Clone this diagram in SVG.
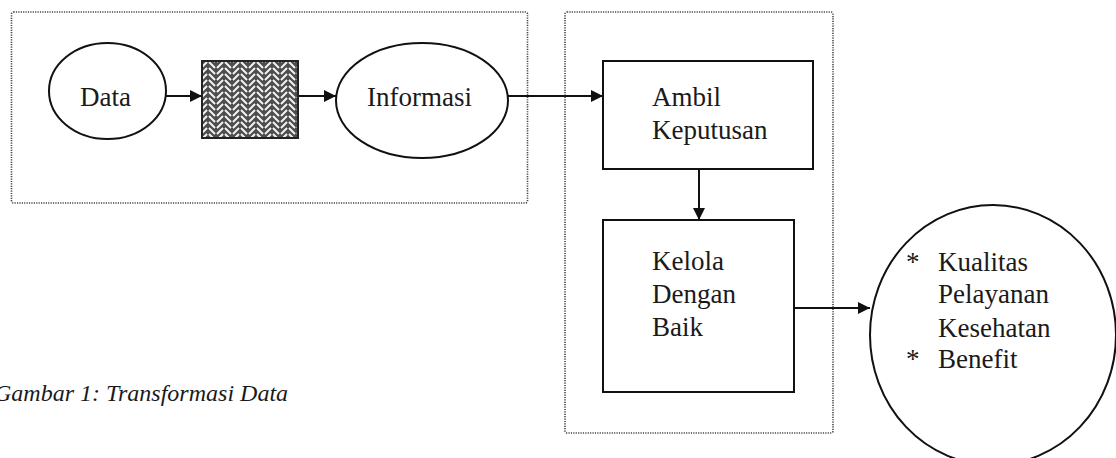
<svg xmlns="http://www.w3.org/2000/svg" width="1116" height="458" viewBox="0 0 1116 458">
<style>
.frame{fill:none;stroke:#444;stroke-width:1.6;stroke-dasharray:1.2 1.2}
.shape{fill:#fff;stroke:#111;stroke-width:2}
.lbl{font-family:"Liberation Serif","Times New Roman",serif;font-size:27px;fill:#1a1a1a}
.cap{font-family:"Liberation Serif","Times New Roman",serif;font-size:24px;font-style:italic;fill:#1a1a1a}
.conn{stroke:#111;stroke-width:2;fill:none;marker-end:url(#arr)}
</style>
<defs>
<marker id="arr" viewBox="0 0 12 12" refX="12" refY="6" markerWidth="12" markerHeight="12" markerUnits="userSpaceOnUse" orient="auto">
<path d="M0,0 L12,6 L0,12 Z" fill="#111"/>
</marker>
<pattern id="weave" width="16" height="12" patternUnits="userSpaceOnUse">
<rect width="16" height="12" fill="#4d4d4d"/>
<path d="M1,2 L7,8 M1,8 L7,14 M1,-4 L7,2 M9,8 L15,2 M9,14 L15,8 M9,2 L15,-4" stroke="#f2f2f2" stroke-width="2" fill="none"/>
</pattern>
</defs>

<rect class="frame" x="11.5" y="12" width="516" height="191" rx="2"/>
<rect class="frame" x="565" y="12" width="268" height="421" rx="2"/>

<g id="connectors">
<line class="conn" x1="166" y1="96" x2="202" y2="96"/>
<line class="conn" x1="299" y1="96" x2="336" y2="96"/>
<line class="conn" x1="508" y1="96" x2="603" y2="96"/>
<line class="conn" x1="699" y1="169" x2="699" y2="220"/>
<line class="conn" x1="794" y1="308" x2="870" y2="308"/>
</g>

<g id="data">
<ellipse class="shape" cx="107.5" cy="91" rx="58.5" ry="48"/>
<text class="lbl" x="80" y="106">Data</text>
</g>

<g id="process">
<rect x="202" y="61" width="96" height="77" fill="url(#weave)" stroke="#222" stroke-width="2"/>
</g>

<g id="informasi">
<ellipse class="shape" cx="422" cy="100.5" rx="86" ry="57.5"/>
<text class="lbl" x="367" y="106">Informasi</text>
</g>

<g id="ambil">
<rect class="shape" x="603" y="61" width="210" height="108"/>
<text class="lbl" x="652" y="106">Ambil</text>
<text class="lbl" x="652" y="139">Keputusan</text>
</g>

<g id="kelola">
<rect class="shape" x="603" y="220" width="191" height="172"/>
<text class="lbl" x="652" y="270">Kelola</text>
<text class="lbl" x="652" y="303">Dengan</text>
<text class="lbl" x="652" y="336">Baik</text>
</g>

<g id="hasil">
<ellipse class="shape" cx="993" cy="335" rx="123" ry="130"/>
<text class="lbl" x="906" y="271">*</text>
<text class="lbl" x="938" y="271">Kualitas</text>
<text class="lbl" x="938" y="303">Pelayanan</text>
<text class="lbl" x="938" y="337">Kesehatan</text>
<text class="lbl" x="906" y="368">*</text>
<text class="lbl" x="938" y="368">Benefit</text>
</g>

<text class="cap" x="-6" y="401">Gambar 1: Transformasi Data</text>
</svg>
